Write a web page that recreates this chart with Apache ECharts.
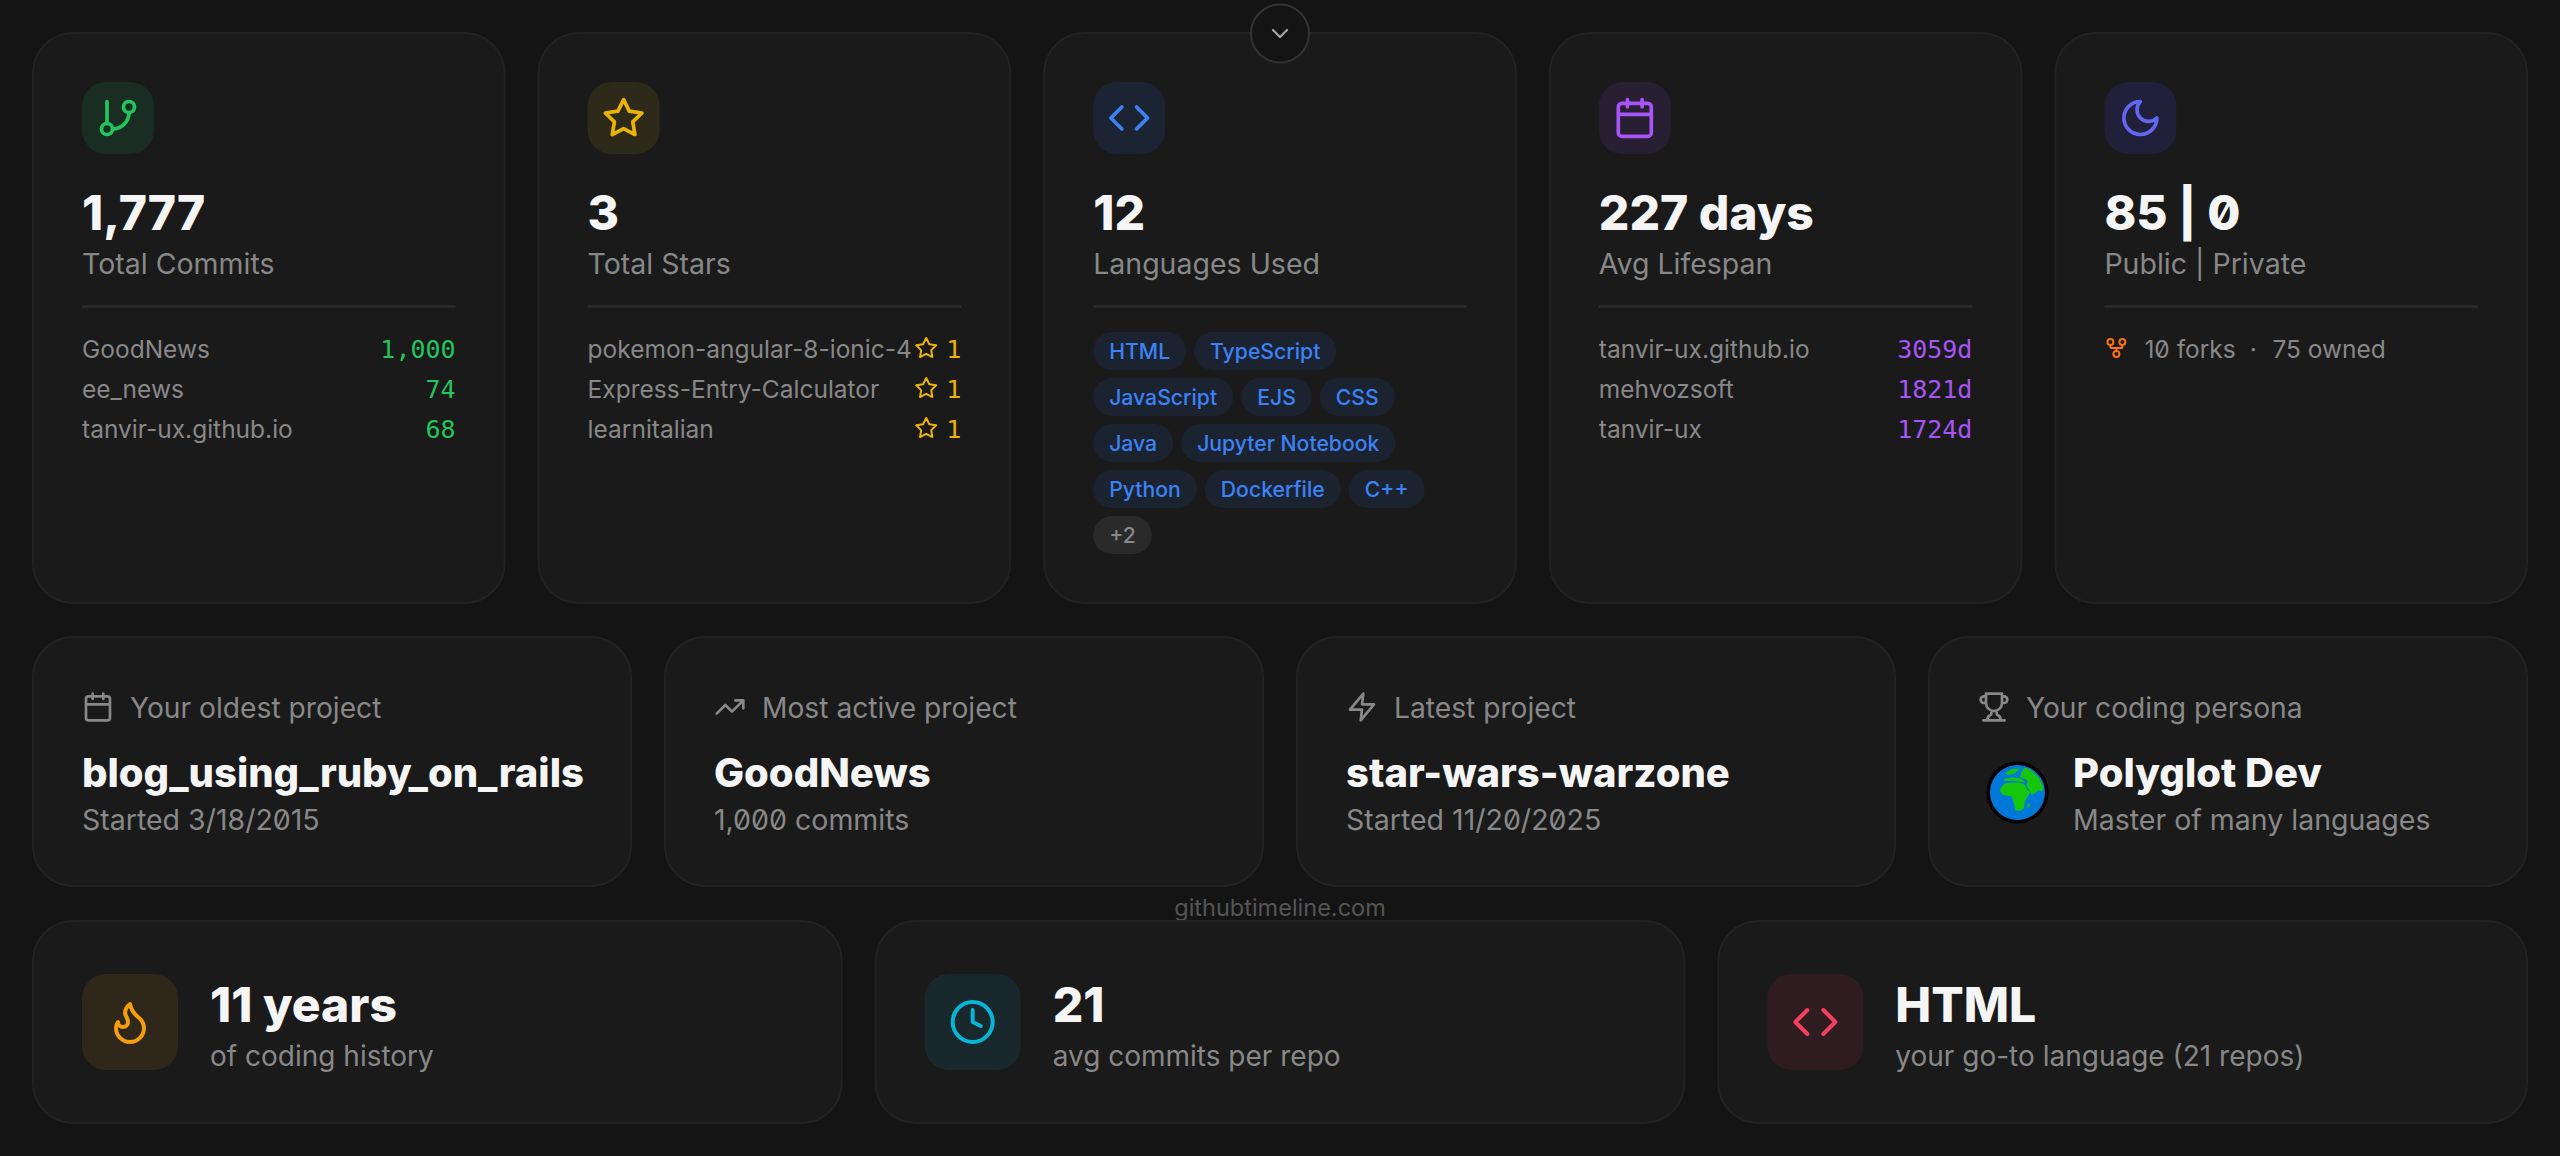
<!DOCTYPE html>
<html lang="en">
<head>
<meta charset="UTF-8">
<title>GitHub timeline stats</title>
<script src="https://cdn.jsdelivr.net/npm/echarts@6/dist/echarts.min.js"></script>
<style>
  html, body { margin: 0; background: #141414; }
  #chart { width: 2560px; height: 1156px; }
  /* slashed zero, the card font has one */
  #chart text { font-feature-settings: "zero" 1 !important; }
</style>
</head>
<body>
<div id="chart"></div>
<script>
// card values
const commitRepos = ['GoodNews', 'ee_news', 'tanvir-ux.github.io'];
const commitCounts = ['1,000', '74', '68'];
const starRepos = ['pokemon-angular-8-ionic-4', 'Express-Entry-Calculator', 'learnitalian'];
const starCounts = [1, 1, 1];
const languages = ['HTML', 'TypeScript', 'JavaScript', 'EJS', 'CSS', 'Java', 'Jupyter Notebook', 'Python', 'Dockerfile', 'C++'];
const moreLanguages = '+2';
const lifespanRepos = ['tanvir-ux.github.io', 'mehvozsoft', 'tanvir-ux'];
const lifespanDays = ['3059d', '1821d', '1724d'];
const topValues = ['1,777', '3', '12', '227 days', '85 | 0'];
const topLabels = ['Total Commits', 'Total Stars', 'Languages Used', 'Avg Lifespan', 'Public | Private'];
const forkNotes = ['10 forks', '·', '75 owned'];
const midHeads = ['Your oldest project', 'Most active project', 'Latest project', 'Your coding persona'];
const midTitles = ['blog_using_ruby_on_rails', 'GoodNews', 'star-wars-warzone', 'Polyglot Dev'];
const midSubs = ['Started 3/18/2015', '1,000 commits', 'Started 11/20/2025', 'Master of many languages'];
const lowTitles = ['11 years', '21', 'HTML'];
const lowSubs = ['of coding history', 'avg commits per repo', 'your go-to language (21 repos)'];
const watermark = 'githubtimeline.com';

// lucide icons, 24 box
const ICON = {
  branch: 'M6 3V15M21 6a3 3 0 1 1-6 0a3 3 0 1 1 6 0M9 18a3 3 0 1 1-6 0a3 3 0 1 1 6 0M18 9a9 9 0 0 1-9 9',
  star: 'M12 2L15.09 8.26L22 9.27L17 14.14L18.18 21.02L12 17.77L5.82 21.02L7 14.14L2 9.27L8.91 8.26Z',
  code: 'M16 18L22 12L16 6M8 6L2 12L8 18',
  calendar: 'M8 2v4M16 2v4M5 4h14a2 2 0 0 1 2 2v14a2 2 0 0 1-2 2h-14a2 2 0 0 1-2-2v-14a2 2 0 0 1 2-2ZM3 10h18',
  moon: 'M12 3a6 6 0 0 0 9 9a9 9 0 1 1-9-9Z',
  fork: 'M15 18a3 3 0 1 1-6 0a3 3 0 1 1 6 0M9 6a3 3 0 1 1-6 0a3 3 0 1 1 6 0M21 6a3 3 0 1 1-6 0a3 3 0 1 1 6 0M18 9v2c0 .6-.4 1-1 1H7c-.6 0-1-.4-1-1V9M12 12v3',
  trend: 'M22 7L13.5 15.5L8.5 10.5L2 17M16 7L22 7L22 13',
  zap: 'M13 2L3 14L12 14L11 22L21 10L12 10Z',
  trophy: 'M6 9H4.5a2.5 2.5 0 0 1 0-5H6M18 9h1.5a2.5 2.5 0 0 0 0-5H18M4 22h16M10 14.66V17c0 .55-.47.98-.97 1.21C7.85 18.75 7 20.24 7 22M14 14.66V17c0 .55.47.98.97 1.21C16.15 18.75 17 20.24 17 22M18 2H6v7a6 6 0 0 0 12 0V2Z',
  flame: 'M8.5 14.5A2.5 2.5 0 0 0 11 12c0-1.38-.5-2-1-3-1.072-2.143-.224-4.054 2-6 .5 2.5 2 4.9 4 6.5 2 1.6 3 3.5 3 5.5a7 7 0 1 1-14 0c0-1.153.433-2.294 1-3a2.5 2.5 0 0 0 2.5 2.5Z',
  clock: 'M22 12a10 10 0 1 1-20 0a10 10 0 1 1 20 0M12 6L12 12L16 14',
  chevron: 'M6 9L12 15L18 9'
};
const LAND = [
  'M165 82L190 95L208 115L220 140L218 155L205 150L195 160L185 165L178 150L170 140L172 120L150 112L155 95Z',
  'M105 100L125 88L150 85L135 100L118 105Z',
  'M100 118L125 112L150 115L165 125L165 128L130 122L105 122Z',
  'M92 145L105 130L130 128L150 128L165 135L172 150L182 155L172 172L165 185L162 205L150 213L136 212L132 190L125 170L100 165L90 155Z',
  'M173 192L180 192L178 203L172 202Z'
];

const SANS = 'Inter, sans-serif';
const MONO = '"DejaVu Sans Mono", monospace';
const WHITE = '#f5f5f5', GREY = '#888888';
const measure = document.createElement('canvas').getContext('2d');

function text(s, x, base, size, fill, opt) {
  opt = opt || {};
  const family = opt.mono ? MONO : SANS;
  return {
    type: 'text',
    style: {
      text: s, x: x, y: base - size * 0.36,
      fill: fill,
      font: (opt.weight || 400) + ' ' + size + 'px ' + family,
      textAlign: opt.align || 'left',
      textVerticalAlign: 'middle'
    }
  };
}
function box(x, y, w, h, r, fill, stroke) {
  return {
    type: 'rect',
    shape: { x: x, y: y, width: w, height: h, r: r },
    style: { fill: fill, stroke: stroke || null, lineWidth: stroke ? 2 : 0 }
  };
}
function icon(name, x, y, size, color) {
  const k = size / 24;
  return {
    type: 'path', x: x, y: y, scaleX: k, scaleY: k,
    shape: { pathData: ICON[name] },
    style: { fill: 'none', stroke: color, lineWidth: 2, lineCap: 'round', lineJoin: 'round' }
  };
}
function panel(x, y, w, h) {
  return box(x + 1, y + 1, w - 2, h - 2, 40, '#1a1a1a', '#222222');
}

const M = 32, GAP = 32, FULL = 2496;
const topW = (FULL - 4 * GAP) / 5, midW = (FULL - 3 * GAP) / 4, lowW = (FULL - 2 * GAP) / 3;
const TOP_Y = 32, TOP_H = 572, MID_Y = 636, MID_H = 251, LOW_Y = 920, LOW_H = 204;
const rowBase = [358, 398, 438];

function topCard(i, iconName, color, tint, body) {
  const x = M + i * (topW + GAP);
  const cx = x + 50, right = x + topW - 50;
  const kids = [
    panel(x, TOP_Y, topW, TOP_H),
    box(cx, 82, 72, 72, 24, tint),
    icon(iconName, cx + 14, 96, 44, color),
    text(topValues[i], cx, 230, 48, WHITE, { weight: 800 }),
    text(topLabels[i], cx, 274, 28.5, GREY),
    box(cx, 305.5, right - cx, 2, 0, '#303030')
  ];
  return kids.concat(body(cx, right));
}

function pairRows(names, values, color) {
  return function (cx, right) {
    const out = [];
    names.forEach(function (n, k) {
      out.push(text(n, cx, rowBase[k], 24.5, GREY));
      out.push(text(values[k], right, rowBase[k], 25, color, { mono: true, align: 'right' }));
    });
    return out;
  };
}
function starRows(cx, right) {
  const out = [];
  starRepos.forEach(function (n, k) {
    out.push(text(n, cx, rowBase[k], 24.5, GREY));
    out.push(icon('star', right - 47, rowBase[k] - 22, 24, '#eab308'));
    out.push(text(String(starCounts[k]), right, rowBase[k], 25, '#eab308', { mono: true, align: 'right' }));
  });
  return out;
}
function tagRows(cx, right) {
  const out = [];
  let tx = cx, ty = 332;
  measure.font = '500 21.2px ' + SANS;
  languages.concat([moreLanguages]).forEach(function (t) {
    const w = measure.measureText(t).width + 32;
    if (tx + w > right) { tx = cx; ty += 46; }
    const extra = t === moreLanguages;
    out.push(box(tx, ty, w, 38, 19, extra ? '#2a2a2a' : '#1c2330'));
    out.push(text(t, tx + 16, ty + 27, 21.2, extra ? GREY : '#3b82f6', { weight: 500 }));
    tx += w + 8;
  });
  return out;
}
function forkRow(cx) {
  return [
    icon('fork', cx, 336, 24, '#f97316'),
    text(forkNotes[0], cx + 40, 358, 24.5, GREY),
    text(forkNotes[1], cx + 149, 358, 24.5, GREY, { align: 'center' }),
    text(forkNotes[2], cx + 168, 358, 24.5, GREY)
  ];
}

function midCard(i, iconName) {
  const x = M + i * (midW + GAP), cx = x + 50;
  const kids = [
    panel(x, MID_Y, midW, MID_H),
    icon(iconName, cx, 691, 32, GREY),
    text(midHeads[i], cx + 48, 718, 28.2, GREY)
  ];
  const tx = i === 3 ? cx + 95 : cx;
  if (i === 3) kids.push.apply(kids, globe());
  kids.push(text(midTitles[i], tx, 787, 40, WHITE, { weight: 800 }));
  kids.push(text(midSubs[i], tx, 830, 28.5, GREY));
  return kids;
}
function globe() {
  const ball = [
    { type: 'circle', shape: { cx: 2017.5, cy: 792.5, r: 31 }, style: { fill: '#000000' } },
    { type: 'circle', shape: { cx: 2017.5, cy: 792.5, r: 27.5 }, style: { fill: '#0078d7' } }
  ];
  LAND.forEach(function (d) {
    ball.push({
      type: 'path', x: 1970, y: 740, scaleX: 1 / 3, scaleY: 1 / 3,
      shape: { pathData: d }, style: { fill: '#16c60c' }
    });
  });
  return ball;
}

function lowCard(i, iconName, color, tint) {
  const x = M + i * (lowW + GAP), cx = x + 50;
  return [
    panel(x, LOW_Y, lowW, LOW_H),
    box(cx, 974, 96, 96, 24, tint),
    icon(iconName, cx + 24, 998, 48, color),
    text(lowTitles[i], cx + 128, 1022, 48, WHITE, { weight: 800 }),
    text(lowSubs[i], cx + 128, 1066, 28, GREY)
  ];
}

const cards = [
  function () { return topCard(0, 'branch', '#22c55e', '#1a2d22', pairRows(commitRepos, commitCounts, '#22c55e')); },
  function () { return topCard(1, 'star', '#eab308', '#2e2a19', starRows); },
  function () { return topCard(2, 'code', '#3b82f6', '#1c2433', tagRows); },
  function () { return topCard(3, 'calendar', '#a855f7', '#281f33', pairRows(lifespanRepos, lifespanDays, '#a855f7')); },
  function () { return topCard(4, 'moon', '#6366f1', '#20203a', forkRow); },
  function () { return midCard(0, 'calendar'); },
  function () { return midCard(1, 'trend'); },
  function () { return midCard(2, 'zap'); },
  function () { return midCard(3, 'trophy'); },
  function () {
    return [text(watermark, 1280, 916, 23.5, '#555555', { align: 'center' })];
  },
  function () { return lowCard(0, 'flame', '#f59e0b', '#2f271a'); },
  function () { return lowCard(1, 'clock', '#06b6d4', '#18282d'); },
  function () { return lowCard(2, 'code', '#f43f5e', '#2f1c21'); },
  function () {
    return [
      { type: 'circle', shape: { cx: 1280, cy: 33.5, r: 29 }, style: { fill: '#141414', stroke: '#333333', lineWidth: 2 } },
      icon('chevron', 1266, 19.5, 28, '#a3a3a3')
    ];
  }
];

const chart = echarts.init(document.getElementById('chart'), null, { renderer: 'svg' });
chart.setOption({
  backgroundColor: '#141414',
  animation: false,
  series: [{
    type: 'custom',
    coordinateSystem: 'none',
    silent: true,
    clip: false,
    data: cards.map(function (c, i) { return i; }),
    renderItem: function (params) {
      return { type: 'group', children: cards[params.dataIndex]() };
    }
  }]
});
</script>
</body>
</html>
